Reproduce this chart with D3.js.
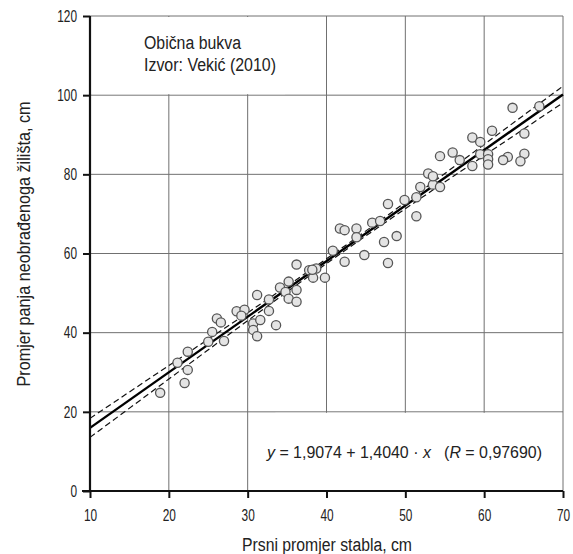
<!DOCTYPE html>
<html>
<head>
<meta charset="UTF-8">
<title>Obična bukva</title>
<script src="https://cdn.jsdelivr.net/npm/d3@7"></script>
<style>
  body { margin: 0; background: #fff; }
  text { font-family: "Liberation Sans", Arial, sans-serif; fill: #222; white-space: pre; }
</style>
</head>
<body>
<script>
// data
var dbh = [18.9, 22.0, 22.4, 21.1, 22.4, 25.0, 27.0, 25.5, 26.1, 26.6, 28.6, 29.6, 29.2, 30.7, 30.7, 31.2, 31.6, 32.7, 31.2, 32.7,
           33.6, 34.1, 35.2, 34.8, 35.2, 36.2, 36.2, 36.2, 37.8, 38.7, 38.3, 39.8, 40.8, 42.3, 41.7, 42.3, 43.8, 43.8, 44.8, 45.8,
           46.8, 47.3, 47.8, 47.8, 48.9, 49.9, 51.4, 51.4, 51.9, 53.5, 52.9, 53.5, 54.4, 54.4, 56.0, 56.9, 58.5, 58.5, 59.5, 59.5,
           60.5, 60.5, 60.5, 61.0, 63.6, 67.0, 65.1, 65.1, 64.6, 63.0, 62.4, 38.2];
var stump = [24.8, 27.3, 30.6, 32.4, 35.2, 37.7, 37.9, 40.2, 43.6, 42.6, 45.4, 45.8, 44.3, 42.3, 40.7, 39.1, 43.2, 45.5, 49.5, 48.4,
             41.9, 51.4, 52.9, 50.3, 48.6, 50.8, 47.8, 57.2, 55.8, 56.2, 53.9, 53.9, 60.7, 57.9, 66.3, 65.9, 66.3, 64.1, 59.6, 67.8,
             68.2, 62.9, 57.6, 72.5, 64.4, 73.5, 74.2, 69.4, 76.8, 77.4, 80.2, 79.5, 76.8, 84.6, 85.5, 83.6, 82.1, 89.3, 88.2, 85.1,
             85.1, 83.8, 82.5, 91.0, 96.8, 97.2, 90.3, 85.2, 83.3, 84.4, 83.6, 55.9];

var intercept = 1.9074, slope = 1.4040;
var bandX = [10, 20, 30, 40, 50, 60, 70];
var bandHalf = [2.4, 1.7, 1.0, 0.6, 0.8, 1.4, 2.1];

var xTicks = [10, 20, 30, 40, 50, 60, 70];
var yTicks = [0, 20, 40, 60, 80, 100, 120];

var W = 573, H = 554;
var svg = d3.select("body").append("svg").attr("width", W).attr("height", H);

var x = d3.scaleLinear().domain([10, 70]).range([90, 563]);
var y = d3.scaleLinear().domain([0, 120]).range([491, 16]);

// narrow-looking text: squeeze to the width measured on the picture
function narrow(sel, len) {
  return sel.attr("textLength", len).attr("lengthAdjust", "spacingAndGlyphs");
}

// grid
svg.append("g").selectAll("line").data(xTicks.slice(1)).join("line")
   .attr("x1", d => x(d)).attr("x2", d => x(d))
   .attr("y1", y(0)).attr("y2", y(120))
   .attr("stroke", "#707070").attr("stroke-width", 1);
svg.append("g").selectAll("line").data(yTicks.slice(1)).join("line")
   .attr("x1", x(10)).attr("x2", x(70))
   .attr("y1", d => y(d)).attr("y2", d => y(d))
   .attr("stroke", "#707070").attr("stroke-width", 1);

// white boxes behind the texts
svg.append("rect").attr("x", x(10) + 2).attr("y", y(120) + 1)
   .attr("width", x(34.5) - x(10)).attr("height", y(100) - y(120) - 2).attr("fill", "#fff");
svg.append("rect").attr("x", x(33.5)).attr("y", y(20) + 1)
   .attr("width", x(70) - x(33.5) - 1).attr("height", y(0) - y(20) - 2).attr("fill", "#fff");

// confidence band and fit line
var line = d3.line().x(d => x(d[0])).y(d => y(d[1])).curve(d3.curveNatural);
var upper = bandX.map((v, i) => [v, intercept + slope * v + bandHalf[i]]);
var lower = bandX.map((v, i) => [v, intercept + slope * v - bandHalf[i]]);
[upper, lower].forEach(function(b) {
  svg.append("path").attr("d", line(b)).attr("fill", "none")
     .attr("stroke", "#111").attr("stroke-width", 1.2).attr("stroke-dasharray", "6,3.5");
});
svg.append("path").attr("d", line([[10, intercept + slope * 10], [70, intercept + slope * 70]]))
   .attr("fill", "none").attr("stroke", "#000").attr("stroke-width", 2.4);

// points
svg.append("g").selectAll("circle").data(dbh).join("circle")
   .attr("cx", d => x(d)).attr("cy", (d, i) => y(stump[i])).attr("r", 4.6)
   .attr("fill", "#e4e4e4").attr("stroke", "#555").attr("stroke-width", 1.3);

// axes
var xAxis = svg.append("g").attr("transform", "translate(0," + y(0) + ")")
   .call(d3.axisBottom(x).tickValues(xTicks).tickSize(7).tickPadding(11));
var yAxis = svg.append("g").attr("transform", "translate(" + x(10) + ",0)")
   .call(d3.axisLeft(y).tickValues(yTicks).tickSize(7).tickPadding(6));
[xAxis, yAxis].forEach(function(a) {
  a.select(".domain").attr("stroke", "#111").attr("stroke-width", 2.2);
  a.selectAll(".tick line").attr("stroke", "#111").attr("stroke-width", 2);
  a.selectAll("text").attr("font-size", 16.5).attr("font-family", null).attr("fill", "#222")
   .each(function(d) { narrow(d3.select(this), String(d).length * 6.6); });
});
xAxis.select(".domain").attr("d", "M" + (x(10) - 8) + ",0H" + x(70));
yAxis.select(".domain").attr("d", "M0," + y(0) + "V" + y(120));

// texts
narrow(svg.append("text").attr("x", 144).attr("y", 49).attr("font-size", 18).text("Obična bukva"), 97);
narrow(svg.append("text").attr("x", 144).attr("y", 71).attr("font-size", 18).text("Izvor: Vekić (2010)"), 132);

var eq = svg.append("text").attr("x", 267).attr("y", 458).attr("font-size", 16);
eq.append("tspan").attr("font-style", "italic").text("y");
eq.append("tspan").text(" = 1,9074 + 1,4040 · ");
eq.append("tspan").attr("font-style", "italic").text("x");
eq.append("tspan").text("   (");
eq.append("tspan").attr("font-style", "italic").text("R");
eq.append("tspan").text(" = 0,97690)");
narrow(eq, 275);

narrow(svg.append("text").attr("x", 327).attr("y", 551).attr("text-anchor", "middle").attr("font-size", 18)
   .text("Prsni promjer stabla, cm"), 170);
narrow(svg.append("text").attr("transform", "translate(30,244) rotate(-90)").attr("text-anchor", "middle")
   .attr("font-size", 18).text("Promjer panja neobrađenoga žilišta, cm"), 285);
</script>
</body>
</html>
